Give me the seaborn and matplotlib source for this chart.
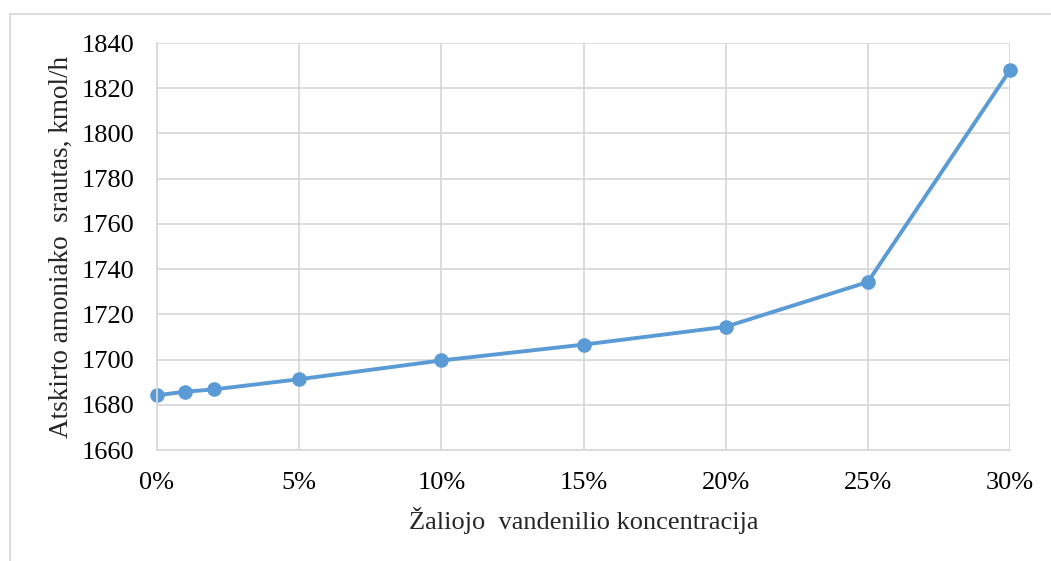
import matplotlib
matplotlib.use("Agg")
import matplotlib.pyplot as plt
import seaborn as sns
import pandas as pd
from matplotlib.patches import Rectangle

concentration = [0, 1, 2, 5, 10, 15, 20, 25, 30]
flow = [1684.2, 1685.8, 1686.8, 1691.3, 1699.6, 1706.6, 1714.5, 1734.3, 1828.0]
y_ticks = [1660, 1680, 1700, 1720, 1740, 1760, 1780, 1800, 1820, 1840]
x_ticks = [0, 5, 10, 15, 20, 25, 30]
x_label = "Žaliojo  vandenilio koncentracija"
y_label = "Atskirto amoniako  srautas, kmol/h"

df = pd.DataFrame({"x": concentration, "y": flow})

sns.set_theme(style="white")
plt.rcParams['font.family'] = ['Liberation Serif', 'DejaVu Serif']

fig = plt.figure(figsize=(10.51, 5.61), dpi=100)
ax = fig.add_axes([157/1051, 1 - 450/561, (1010-157)/1051, (450-43)/561])

color = "#5B9BD5"
sns.lineplot(data=df, x="x", y="y", ax=ax, color=color, linewidth=2.8,
             marker="o", markersize=10.5, markeredgewidth=0, markerfacecolor=color)
for ln in ax.lines:
    ln.set_clip_on(False)

ax.set_xlim(0, 30)
ax.set_ylim(1660, 1840)
ax.set_xticks(x_ticks)
ax.set_xticklabels([f"{t}%" for t in x_ticks])
ax.set_yticks(y_ticks)
ax.grid(True, color="#D9D9D9", linewidth=1.3)
ax.set_axisbelow(True)
for s in ["top", "right"]:
    ax.spines[s].set_visible(False)
for s in ["left", "bottom"]:
    ax.spines[s].set_color("#D9D9D9")
    ax.spines[s].set_linewidth(1.3)
ax.tick_params(axis="y", labelsize=19, colors="black", length=0, pad=16)
ax.tick_params(axis="x", labelsize=19, colors="black", length=0, pad=16)
ax.set_xlabel(x_label, fontsize=19, labelpad=9)
ax.set_ylabel(y_label, fontsize=19.5, labelpad=5.5)
for lab in ax.get_xticklabels():
    lab.set_clip_on(False)

fig.patches.append(Rectangle((10/1051, -0.1), 1.2, (561-14)/561 + 0.1,
                             transform=fig.transFigure, fill=False,
                             edgecolor="#D9D9D9", linewidth=1.3))

fig.savefig("out.png", dpi=100)
